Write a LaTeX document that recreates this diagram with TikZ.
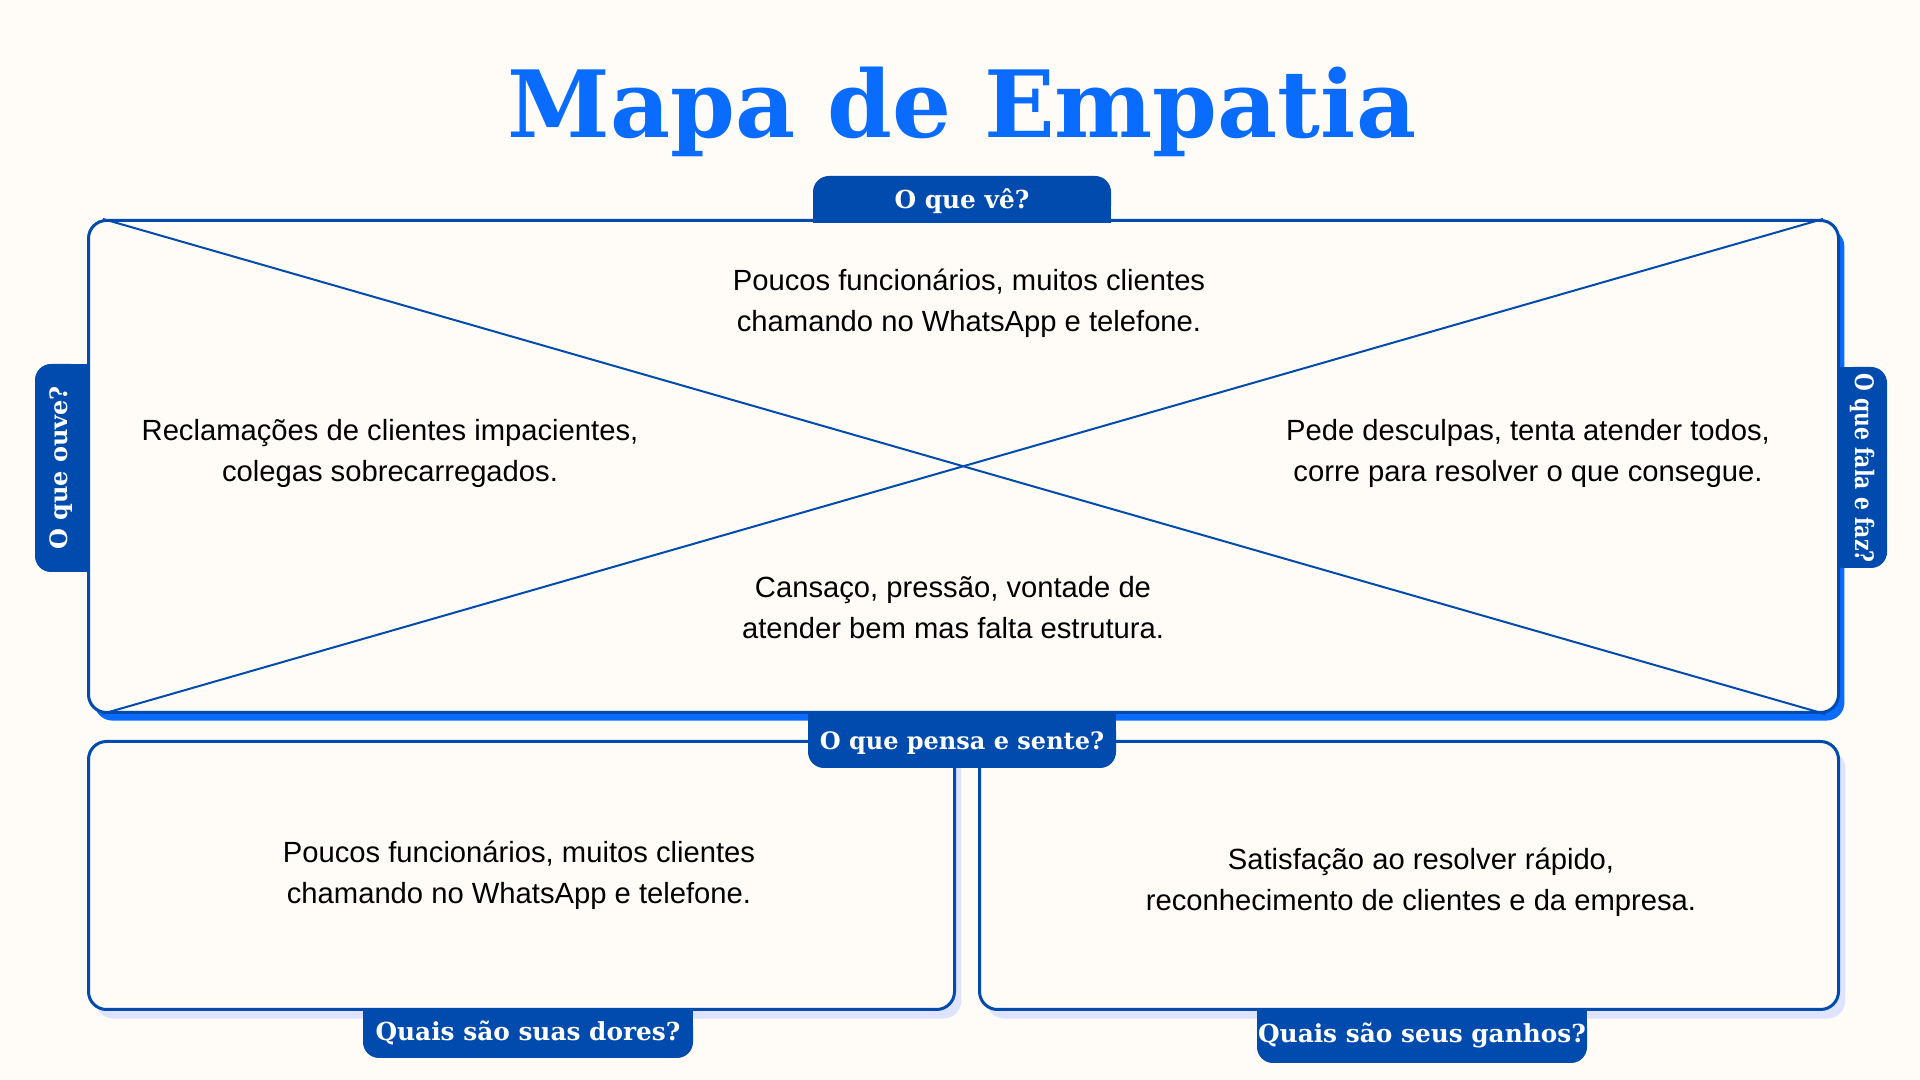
\documentclass[tikz,border=0pt]{standalone}
\usepackage{fontspec}
\usepackage{graphicx}
\setmainfont{Liberation Sans}
\newfontfamily\titlefont{DejaVu Serif}
\newfontfamily\tabfont{DejaVu Serif}
\newfontfamily\tabcond[FakeStretch=0.8]{DejaVu Serif}
\usetikzlibrary{calc}
\definecolor{bg}{RGB}{255,252,247}
\definecolor{dblue}{RGB}{0,75,173}
\definecolor{bblue}{RGB}{10,108,255}
\definecolor{lav}{RGB}{222,228,255}
\begin{document}
\begin{tikzpicture}[x=0.5pt,y=0.5pt,
  boxline/.style={draw=dblue, line width=1.5pt, fill=bg, rounded corners=9pt, inner sep=0pt, anchor=south west},
  boxshadow/.style={rounded corners=9pt, inner sep=0pt, anchor=south west, draw=none},
  diag/.style={draw=dblue, line width=1pt},
  tabfill/.style={fill=dblue},
  tabtext/.style={text=white, font=\tabfont\bfseries\fontsize{12}{14}\selectfont, inner sep=0pt},
  tabwide/.style={text=white, font=\tabfont\bfseries\fontsize{12.4}{14}\selectfont, inner sep=0pt},
  tabcondtext/.style={text=white, font=\tabcond\bfseries\fontsize{12.7}{14}\selectfont, inner sep=0pt},
  bodytext/.style={align=center, font=\fontsize{14.6}{20.5}\selectfont, text=black, inner sep=0pt}
]
\useasboundingbox (0,0) rectangle (1920,1080);
\fill[bg] (0,0) rectangle (1920,1080);

% title
\node[font=\titlefont\bfseries\fontsize{46.4}{54}\selectfont, text=bblue, anchor=base, inner sep=0pt] (title) at (962,942) {Mapa de Empatia};

% shadows
\node[boxshadow, fill=bblue, minimum width=875pt, minimum height=246pt] (bigsh) at (94,359) {};
\node[boxshadow, fill=lav, minimum width=433pt, minimum height=134pt] (llsh) at (95,61) {};
\node[boxshadow, fill=lav, minimum width=429.5pt, minimum height=134pt] (lrsh) at (986,61) {};

% boxes
\node[boxline, minimum width=875pt, minimum height=246pt] (big) at (87,366) {};
\node[boxline, minimum width=433pt, minimum height=134pt] (ll) at (87,69) {};
\node[boxline, minimum width=429.5pt, minimum height=134pt] (lr) at (978,69) {};

% diagonals
\draw[diag] ($(big.north west)+(16,0)$) -- ($(big.south east)+(-15,0)$);
\draw[diag] ($(big.south west)+(15,0)$) -- ($(big.north east)+(-17,0)$);

% tabs
\fill[tabfill, rounded corners=8pt] (813,858) rectangle (1111,904);
\fill[tabfill] (813,857) rectangle (1111,880);
\fill[tabfill, rounded corners=8pt] (35,508) rectangle (87,716);
\fill[tabfill] (60,508) rectangle (88,716);
\fill[tabfill, rounded corners=8pt] (1838,512) rectangle (1887,713);
\fill[tabfill] (1837,512) rectangle (1862,713);
\fill[tabfill, rounded corners=8pt] (808,312) rectangle (1116,366);
\fill[tabfill] (808,340) rectangle (1116,366);
\fill[tabfill, rounded corners=8pt] (363,22) rectangle (693,70);
\fill[tabfill] (363,45) rectangle (693,70);
\fill[tabfill, rounded corners=8pt] (1257,17) rectangle (1587,70);
\fill[tabfill] (1257,45) rectangle (1587,70);

\node[tabwide] (t1) at (962,879) {O que vê?};
\node[tabtext, rotate=90] (t2) at (61,612) {O que ouve?};
\node[tabcondtext, rotate=-90] (t3) at (1862,612) {O que fala e faz?};
\node[tabtext] (t4) at (962,337) {O que pensa e sente?};
\node[tabwide] (t5) at (528,47) {Quais são suas dores?};
\node[tabwide] (t6) at (1422,45) {Quais são seus ganhos?};

% body texts
\node[bodytext] (ve) at (969,777) {Poucos funcionários, muitos clientes\\chamando no WhatsApp e telefone.};
\node[bodytext] (ouve) at (390,627) {Reclamações de clientes impacientes,\\colegas sobrecarregados.};
\node[bodytext] (fala) at (1528,627) {Pede desculpas, tenta atender todos,\\corre para resolver o que consegue.};
\node[bodytext] (pensa) at (953,472) {Cansaço, pressão, vontade de\\atender bem mas falta estrutura.};
\node[bodytext] (dores) at (519,205) {Poucos funcionários, muitos clientes\\chamando no WhatsApp e telefone.};
\node[bodytext] (ganhos) at (1421,198) {Satisfação ao resolver rápido,\\reconhecimento de clientes e da empresa.};
\end{tikzpicture}
\end{document}
